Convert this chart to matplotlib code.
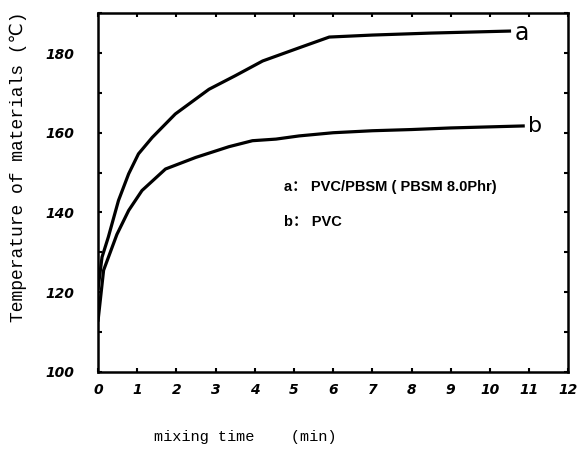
import matplotlib.pyplot as plt
from matplotlib.ticker import MultipleLocator

# curve a : PVC/PBSM (PBSM 8.0 phr)
time_a = [0, 0.1, 0.26, 0.52, 0.78, 1.03, 1.38, 1.97, 2.83, 3.5, 4.2, 5.13, 5.9, 7.0, 8.5, 10.5]
temp_a = [121, 128.8, 133.8, 143, 149.7, 154.7, 158.8, 164.7, 170.9, 174.3, 178, 181.3, 184, 184.5, 185, 185.5]

# curve b : PVC
time_b = [0, 0.14, 0.48, 0.78, 1.12, 1.72, 2.49, 3.34, 3.94, 4.54, 5.13, 6.0, 7.0, 8.0, 9.0, 10.85]
temp_b = [113, 125.5, 134.5, 140.5, 145.5, 150.9, 153.8, 156.5, 158, 158.4, 159.2, 160, 160.5, 160.8, 161.2, 161.7]

x_ticks = list(range(0, 13))
y_ticks = [100, 120, 140, 160, 180]

mono = ['Liberation Mono', 'DejaVu Sans Mono', 'DejaVu Sans']
sans = ['Liberation Sans', 'Noto Sans CJK SC']

fig = plt.figure(figsize=(5.84, 4.53), dpi=100)
ax = fig.add_axes([0.168, 0.179, 0.805, 0.792])

ax.plot(time_a, temp_a, color='black', lw=2.3, solid_joinstyle='round')
ax.plot(time_b, temp_b, color='black', lw=2.3, solid_joinstyle='round')

ax.set_xlim(0, 12)
ax.set_ylim(100, 190)
ax.set_xticks(x_ticks)
ax.set_yticks(y_ticks)
ax.yaxis.set_minor_locator(MultipleLocator(10))
ax.tick_params(which='both', direction='in', length=3, width=1.5,
               top=True, right=True)
ax.tick_params(axis='x', pad=8)
ax.tick_params(axis='y', pad=17)
for lab in ax.get_xticklabels() + ax.get_yticklabels():
    lab.set_fontweight('bold')
    lab.set_fontsize(10)
    lab.set_fontstyle('italic')
for sp in ax.spines.values():
    sp.set_linewidth(1.8)

# curve tags
ax.text(10.62, temp_a[-1] - 0.5, 'a', fontsize=17, va='center', ha='left')
ax.text(10.98, temp_b[-1], 'b', fontsize=16, va='center', ha='left')

# legend text
ax.text(4.74, 146.3, 'a： PVC/PBSM ( PBSM 8.0Phr)', family=sans,
        fontsize=10.5, fontweight='bold', va='center')
ax.text(4.74, 137.5, 'b： PVC', family=sans, fontsize=10.5,
        fontweight='bold', va='center')

fig.text(0.032, 0.631, 'Temperature of materials (℃)', rotation=90,
         family=mono, fontsize=13, ha='center', va='center')
fig.text(0.42, 0.035, 'mixing time    (min)', family=mono, fontsize=11,
         ha='center', va='center')

plt.savefig('out.png', dpi=100)
